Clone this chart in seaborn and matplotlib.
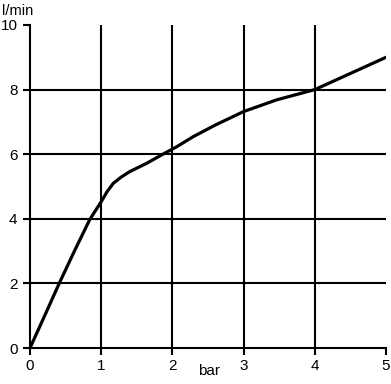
import matplotlib
matplotlib.use("Agg")
import matplotlib.pyplot as plt
import seaborn as sns
import pandas as pd

pressure_bar = [0, 0.2, 0.41, 0.63, 0.84, 1.0, 1.08, 1.17, 1.28, 1.40, 1.64, 1.85, 2.06, 2.29, 2.6, 3.0, 3.46, 4.0, 4.45, 5.0]
flow_lpm = [0, 0.97, 2.0, 3.03, 3.98, 4.53, 4.83, 5.1, 5.29, 5.46, 5.72, 5.98, 6.23, 6.54, 6.9, 7.32, 7.68, 8.0, 8.45, 9.0]
x_ticks = [0, 1, 2, 3, 4, 5]
y_ticks = [0, 2, 4, 6, 8, 10]
x_label = "bar"
y_label = "l/min"

sns.set_theme(style="white")
plt.rcParams["font.family"] = ["Liberation Sans", "DejaVu Sans"]

df = pd.DataFrame({"bar": pressure_bar, "flow": flow_lpm})

fig = plt.figure(figsize=(3.91, 3.84), dpi=100)
ax = fig.add_axes([30 / 391, 36 / 384, 356 / 391, 323 / 384])

for xv in x_ticks[1:-1]:
    ax.axvline(xv, color="black", lw=1.5, zorder=1)
for yv in y_ticks[1:-1]:
    ax.axhline(yv, color="black", lw=1.5, zorder=1)

sns.lineplot(data=df, x="bar", y="flow", ax=ax, color="black", lw=2.3, zorder=3)

ax.set_xlim(0, 5)
ax.set_ylim(0, 10)
ax.set_xticks(x_ticks)
ax.set_yticks(y_ticks)
ax.set_xlabel("")
ax.set_ylabel("")
for side in ["top", "right"]:
    ax.spines[side].set_visible(False)
for side in ["left", "bottom"]:
    ax.spines[side].set_color("black")
    ax.spines[side].set_linewidth(1.5)
ax.tick_params(axis="both", direction="out", length=5, width=1.5, color="black",
               labelsize=11, labelcolor="black", bottom=True, left=True)
ax.tick_params(axis="y", pad=4)
ax.tick_params(axis="x", pad=3)

fig.text(2 / 391, 1 - 11 / 384, y_label, fontsize=10.5, color="black", va="center", ha="left")
fig.text(209 / 391, 1 - 371 / 384, x_label, fontsize=11, color="black", va="center", ha="center")

fig.savefig("out.png", dpi=100)
